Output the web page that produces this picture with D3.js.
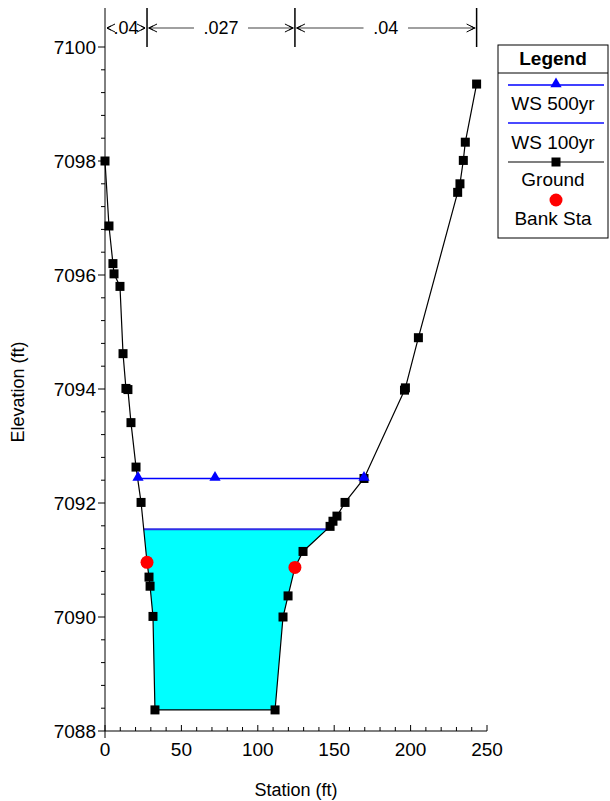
<!DOCTYPE html>
<html>
<head>
<meta charset="utf-8">
<script src="https://cdn.jsdelivr.net/npm/d3@7"></script>
<style>
  body { margin: 0; background: #fff; }
  text { font-family: "Liberation Sans", Arial, sans-serif; fill: #000; }
</style>
</head>
<body>
<div id="container"></div>
<script>
// ground profile
const groundSta = [0, 2.6, 5.2, 5.9, 9.8, 11.8, 13.7, 15.0, 17.0, 20.3, 23.6, 27.5, 28.8, 29.5, 31.4, 32.7,
  111.3, 116.5, 119.8, 124.3, 129.6, 147.3, 149.2, 151.8, 157.1, 169.5, 196.0, 196.6, 205.1,
  230.8, 232.3, 234.5, 235.8, 243.2]
const groundElev = [7098.0, 7096.86, 7096.2, 7096.02, 7095.8, 7094.62, 7094.01, 7093.99, 7093.41, 7092.63, 7092.01, 7090.96, 7090.70, 7090.54, 7090.01, 7088.37,
  7088.37, 7090.0, 7090.37, 7090.87, 7091.15, 7091.59, 7091.68, 7091.77, 7092.01, 7092.43, 7093.98, 7094.02, 7094.9,
  7097.45, 7097.6, 7098.01, 7098.33, 7099.35]

// bank stations
const bankSta = [27.5, 124.3]
const bankElev = [7090.96, 7090.87]

// water surfaces
const ws100 = 7091.54
const ws500 = 7092.43
const ws500MarkerSta = [21.6, 72, 169.5]

// manning's n
const nSta = [0, 27.5, 124.3, 243.2]
const nValues = ['.04', '.027', '.04']

const xTicks = [0, 50, 100, 150, 200, 250]
const yTicks = [7088, 7090, 7092, 7094, 7096, 7098, 7100]

const w = 610
const h = 801

const x = d3.scaleLinear().domain([0, 250]).range([105, 487])
const y = d3.scaleLinear().domain([7088, 7100]).range([731, 47])

const svg = d3.select('#container')
  .append('svg')
  .attr('width', w)
  .attr('height', h)

const ground = groundSta.map((s, i) => ({ s, e: groundElev[i] }))

// find where the ground crosses a water level
function crossings(level) {
  const out = []
  for (let i = 0; i < ground.length - 1; i++) {
    const a = ground[i], b = ground[i + 1]
    if ((a.e - level) * (b.e - level) < 0) {
      out.push(a.s + (level - a.e) / (b.e - a.e) * (b.s - a.s))
    }
  }
  return out
}

//FILL under WS 100yr
const c100 = crossings(ws100)
const fillPts = [{ s: c100[0], e: ws100 }]
  .concat(ground.filter(d => d.s > c100[0] && d.s < c100[1]))
  .concat([{ s: c100[1], e: ws100 }])

svg.append('path')
  .attr('d', d3.line().x(d => x(d.s)).y(d => y(d.e))(fillPts) + 'Z')
  .attr('fill', '#00ffff')

//AXES
const xAxis = svg.append('g')
  .attr('transform', `translate(0,${y(7088)})`)
xAxis.append('line')
  .attr('x1', x(0)).attr('x2', x(250))
  .attr('stroke', '#000')
xAxis.selectAll('.minor')
  .data(d3.range(0, 251, 10))
  .enter()
  .append('line')
  .attr('x1', d => x(d)).attr('x2', d => x(d))
  .attr('y1', 0)
  .attr('y2', d => d % 50 === 0 ? -6 : -4)
  .attr('stroke', '#000')
xAxis.selectAll('text')
  .data(xTicks)
  .enter()
  .append('text')
  .attr('x', d => x(d))
  .attr('y', 25)
  .attr('text-anchor', 'middle')
  .attr('font-size', 19)
  .text(d => d)

const yAxis = svg.append('g')
yAxis.append('line')
  .attr('x1', x(0)).attr('x2', x(0))
  .attr('y1', 8).attr('y2', 738)
  .attr('stroke', '#000')
yAxis.selectAll('.minor')
  .data(d3.range(0, 31).map(i => 7088 + i * 0.4))
  .enter()
  .append('line')
  .attr('x1', x(0))
  .attr('x2', (d, i) => x(0) - (i % 5 === 0 ? 7 : 4))
  .attr('y1', d => y(d)).attr('y2', d => y(d))
  .attr('stroke', '#000')
yAxis.selectAll('text')
  .data(yTicks)
  .enter()
  .append('text')
  .attr('x', x(0) - 9)
  .attr('y', d => y(d) + 7)
  .attr('text-anchor', 'end')
  .attr('font-size', 19)
  .text(d => d)

svg.append('text')
  .attr('x', 296)
  .attr('y', 796)
  .attr('text-anchor', 'middle')
  .attr('font-size', 18)
  .text('Station (ft)')

svg.append('text')
  .attr('transform', 'translate(24,392) rotate(-90)')
  .attr('text-anchor', 'middle')
  .attr('font-size', 18)
  .text('Elevation (ft)')

//MANNING N
const nTop = svg.append('g')
nTop.selectAll('line.bar')
  .data(nSta.slice(1))
  .enter()
  .append('line')
  .attr('x1', d => x(d)).attr('x2', d => x(d))
  .attr('y1', 8).attr('y2', 47)
  .attr('stroke', '#000')
  .attr('stroke-width', 1.5)

const arrowY = 28
nValues.forEach((v, i) => {
  const x0 = x(nSta[i]) + 1
  const x1 = x(nSta[i + 1]) - 1
  const mid = (x0 + x1) / 2
  const tw = v.length * 9.5 + 8
  if (x1 - x0 > tw + 20) {
    nTop.append('line')
      .attr('x1', x0).attr('x2', mid - tw / 2 - 4)
      .attr('y1', arrowY).attr('y2', arrowY)
      .attr('stroke', '#808080').attr('stroke-width', 1.5)
    nTop.append('line')
      .attr('x1', mid + tw / 2 + 4).attr('x2', x1)
      .attr('y1', arrowY).attr('y2', arrowY)
      .attr('stroke', '#808080').attr('stroke-width', 1.5)
  }
  nTop.append('path')
    .attr('d', `M${x0 + 9},${arrowY - 4}L${x0 + 1},${arrowY}L${x0 + 9},${arrowY + 4}M${x0 + 5},${arrowY - 2}L${x0 + 1},${arrowY}L${x0 + 5},${arrowY + 2}`)
    .attr('fill', 'none').attr('stroke', '#000').attr('stroke-width', 1)
  nTop.append('path')
    .attr('d', `M${x1 - 9},${arrowY - 4}L${x1 - 1},${arrowY}L${x1 - 9},${arrowY + 4}M${x1 - 5},${arrowY - 2}L${x1 - 1},${arrowY}L${x1 - 5},${arrowY + 2}`)
    .attr('fill', 'none').attr('stroke', '#000').attr('stroke-width', 1)
  nTop.append('text')
    .attr('x', mid)
    .attr('y', arrowY + 6)
    .attr('text-anchor', 'middle')
    .attr('font-size', 18)
    .text(v)
})

//WATER SURFACES
svg.append('line')
  .attr('x1', x(c100[0])).attr('x2', x(c100[1]))
  .attr('y1', y(ws100)).attr('y2', y(ws100))
  .attr('stroke', '#2f2fe6').attr('stroke-width', 2)

svg.append('line')
  .attr('x1', x(ws500MarkerSta[0])).attr('x2', x(ws500MarkerSta[2]))
  .attr('y1', y(ws500)).attr('y2', y(ws500))
  .attr('stroke', '#0000ff').attr('stroke-width', 1.3)

//GROUND
svg.append('path')
  .attr('d', d3.line().x(d => x(d.s)).y(d => y(d.e))(ground))
  .attr('fill', 'none')
  .attr('stroke', '#000')
  .attr('stroke-width', 1.2)

svg.selectAll('rect.gp')
  .data(ground)
  .enter()
  .append('rect')
  .attr('class', 'gp')
  .attr('x', d => x(d.s) - 4.5)
  .attr('y', d => y(d.e) - 4.5)
  .attr('width', 9)
  .attr('height', 9)
  .attr('fill', '#000')

const tri = d3.symbol().type(d3.symbolTriangle).size(55)
svg.selectAll('path.tri')
  .data(ws500MarkerSta)
  .enter()
  .append('path')
  .attr('class', 'tri')
  .attr('d', tri)
  .attr('transform', d => `translate(${x(d)},${y(ws500) - 1})`)
  .attr('fill', '#0000ff')

//BANK STATIONS
svg.selectAll('circle.bank')
  .data(bankSta)
  .enter()
  .append('circle')
  .attr('class', 'bank')
  .attr('cx', d => x(d))
  .attr('cy', (d, i) => y(bankElev[i]))
  .attr('r', 6.5)
  .attr('fill', '#ff0000')

//LEGEND
const lg = svg.append('g').attr('transform', 'translate(498,45)')
lg.append('rect')
  .attr('width', 110).attr('height', 193)
  .attr('fill', '#fff').attr('stroke', '#000')
lg.append('line')
  .attr('x1', 0).attr('x2', 110).attr('y1', 28).attr('y2', 28)
  .attr('stroke', '#000')
lg.append('text')
  .attr('x', 55).attr('y', 20)
  .attr('text-anchor', 'middle')
  .attr('font-size', 19).attr('font-weight', 'bold')
  .text('Legend')

const items = [
  { label: 'WS 500yr', ly: 40, ty: 65, color: '#0000ff', width: 1.3, mark: 'tri' },
  { label: 'WS 100yr', ly: 78, ty: 104, color: '#4a4aff', width: 2, mark: null },
  { label: 'Ground', ly: 117, ty: 141, color: '#000', width: 1.2, mark: 'sq' },
  { label: 'Bank Sta', ly: 155, ty: 180, color: null, width: 0, mark: 'dot' }
]
items.forEach(it => {
  if (it.color) {
    lg.append('line')
      .attr('x1', 10).attr('x2', 106).attr('y1', it.ly).attr('y2', it.ly)
      .attr('stroke', it.color).attr('stroke-width', it.width)
  }
  if (it.mark === 'tri') {
    lg.append('path').attr('d', tri)
      .attr('transform', `translate(58,${it.ly - 1})`).attr('fill', '#0000ff')
  } else if (it.mark === 'sq') {
    lg.append('rect').attr('x', 53.5).attr('y', it.ly - 4.5)
      .attr('width', 9).attr('height', 9).attr('fill', '#000')
  } else if (it.mark === 'dot') {
    lg.append('circle').attr('cx', 58).attr('cy', it.ly).attr('r', 6.5).attr('fill', '#ff0000')
  }
  lg.append('text')
    .attr('x', 55).attr('y', it.ty)
    .attr('text-anchor', 'middle')
    .attr('font-size', 19)
    .text(it.label)
})
</script>
</body>
</html>
